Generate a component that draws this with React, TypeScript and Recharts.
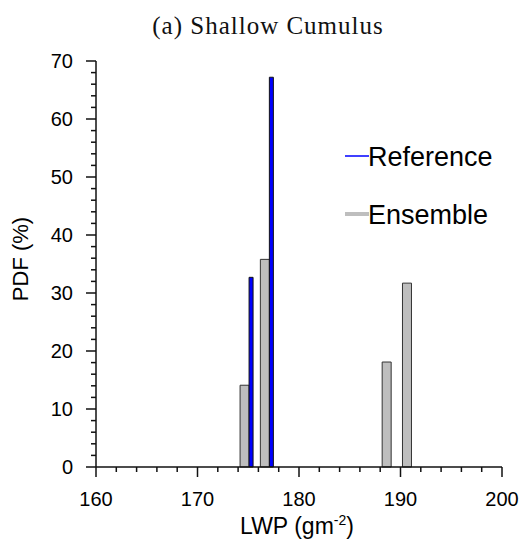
import { Bar, BarChart, XAxis, YAxis } from "recharts";

// bin positions (LWP, g m^-2) and PDF values (%)
const lwpBins = [174.8, 176.8, 188.8, 190.8];
const ensemblePdf = [14.1, 35.8, 18.1, 31.7];
const referencePdf = [32.7, 67.2, null, null];

const xTicks = Array.from({ length: 21 }, (_, i) => 160 + i * 2);
const yTicks = Array.from({ length: 36 }, (_, i) => i * 2);

const data = lwpBins.map((lwp, i) => ({
  lwp,
  ensemble: ensemblePdf[i],
  reference: referencePdf[i],
}));

const SANS = "'Liberation Sans', Arial, Helvetica, sans-serif";

function XTick({ x, y, payload }: any) {
  const major = payload.value % 10 === 0;
  return (
    <g>
      <line x1={x} x2={x} y1={y} y2={y + (major ? 10 : 5)} stroke="#111" strokeWidth={1.5} />
      {major && (
        <text x={x} y={y + 25} dy="0.71em" textAnchor="middle" fontSize={20} fontFamily={SANS} fill="#000">
          {payload.value}
        </text>
      )}
    </g>
  );
}

function YTick({ x, y, payload }: any) {
  const major = payload.value % 10 === 0;
  return (
    <g>
      <line x1={x} x2={x - (major ? 10 : 5)} y1={y} y2={y} stroke="#111" strokeWidth={1.5} />
      {major && (
        <text x={x - 23} y={y} dy="0.355em" textAnchor="end" fontSize={20} fontFamily={SANS} fill="#000">
          {payload.value}
        </text>
      )}
    </g>
  );
}

export default function App() {
  return (
    <div style={{ position: "absolute", left: 0, top: 0, width: 519, height: 547, background: "#fff" }}>
      <div
        style={{
          position: "absolute",
          left: 0,
          width: 536,
          top: 12,
          textAlign: "center",
          fontFamily: "'Liberation Serif', 'Times New Roman', serif",
          fontSize: 25,
          lineHeight: "28px",
          letterSpacing: 1,
          color: "#111",
        }}
      >
        (a) Shallow Cumulus
      </div>
      <BarChart
        width={519}
        height={547}
        data={data}
        margin={{ top: 61, right: 17, bottom: 0, left: 0 }}
        barGap={0}
      >
        <XAxis
          type="number"
          dataKey="lwp"
          domain={[160, 200]}
          ticks={xTicks}
          interval={0}
          height={80}
          tickSize={0}
          tickMargin={0}
          tickLine={false}
          axisLine={{ stroke: "#111", strokeWidth: 1.5 }}
          tick={XTick}
          label={({ viewBox }: any) => (
            <text
              x={viewBox.x + viewBox.width / 2 - 2}
              y={viewBox.y + 67}
              textAnchor="middle"
              fontSize={23}
              fontFamily={SANS}
              fill="#000"
            >
              LWP (gm
              <tspan dy={-9} fontSize={14}>-2</tspan>
              <tspan dy={9}>)</tspan>
            </text>
          )}
        />
        <YAxis
          type="number"
          domain={[0, 70]}
          ticks={yTicks}
          interval={0}
          width={96}
          tickSize={0}
          tickMargin={0}
          tickLine={false}
          axisLine={{ stroke: "#111", strokeWidth: 1.5 }}
          tick={YTick}
          label={({ viewBox }: any) => {
            const cx = viewBox.x + 28;
            const cy = viewBox.y + viewBox.height / 2 - 5;
            return (
              <text
                x={cx}
                y={cy}
                transform={`rotate(-90 ${cx} ${cy})`}
                textAnchor="middle"
                fontSize={22}
                fontFamily={SANS}
                fill="#000"
              >
                PDF (%)
              </text>
            );
          }}
        />
        <Bar
          dataKey="ensemble"
          barSize={9}
          fill="#bebebe"
          stroke="#333"
          strokeWidth={1}
          isAnimationActive={false}
        />
        <Bar
          dataKey="reference"
          barSize={4}
          fill="#0000ff"
          stroke="#111"
          strokeWidth={1}
          isAnimationActive={false}
        />
      </BarChart>
      <svg
        width={200}
        height={100}
        style={{ position: "absolute", left: 340, top: 130, overflow: "visible" }}
      >
        <line x1={5} x2={29} y1={26} y2={26} stroke="#0000ff" strokeWidth={1.5} />
        <text x={28} y={35.6} fontSize={27} fontFamily={SANS} fill="#000">
          Reference
        </text>
        <line x1={5} x2={29} y1={84} y2={84} stroke="#bebebe" strokeWidth={4} />
        <text x={28} y={93.6} fontSize={27} fontFamily={SANS} fill="#000">
          Ensemble
        </text>
      </svg>
    </div>
  );
}
